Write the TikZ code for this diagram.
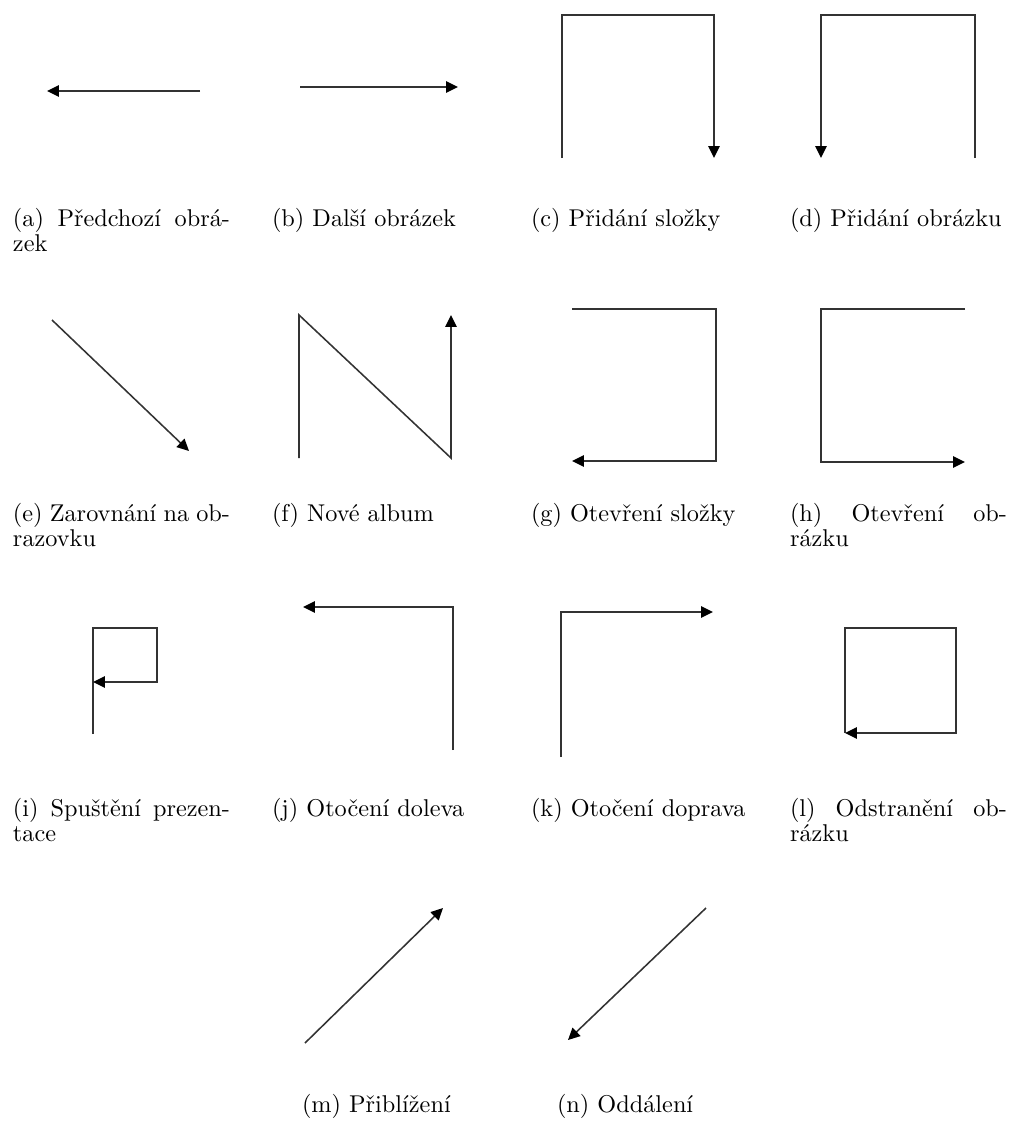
\documentclass[tikz,border=0pt]{standalone}
\usetikzlibrary{arrows.meta}
\begin{document}
\begin{tikzpicture}[x=0.412pt,y=-0.412pt,
  icon/.style={draw=black!80, line width=0.64pt, line join=miter,
    -{Triangle[length=4.9pt,width=4.7pt,color=black]}},
  subcap/.style={anchor=north west, inner sep=0pt, outer sep=0pt, text width=89.4pt, align=justify, font=\fontsize{10pt}{10.4pt}\selectfont}]
\useasboundingbox (0,0) rectangle (1010,1122);
% row 1
\draw[icon] (200,91) -- (47,91);
\draw[icon] (300,87) -- (458,87);
\draw[icon] (562,158) -- (562,15) -- (714,15) -- (714,158);
\draw[icon] (975,158) -- (975,15) -- (821,15) -- (821,158);
\node[subcap] (ca) at (13,207.8) {(a) Předchozí obrá-\linebreak zek};
\node[subcap] (cb) at (272,207.8) {(b) Další obrázek};
\node[subcap] (cc) at (531,207.8) {(c) Přidání složky};
\node[subcap] (cd) at (790,207.8) {(d) Přidání obrázku};
% row 2
\draw[icon] (52,320) -- (189,451);
\draw[icon] (299,458) -- (299,315) -- (451,458) -- (451,315);
\draw[icon] (572,309) -- (716,309) -- (716,461) -- (572,461);
\draw[icon] (965,309) -- (821,309) -- (821,462) -- (965,462);
\node[subcap] (ce) at (13,502.8) {(e) Zarovnání na ob-\linebreak razovku};
\node[subcap] (cf) at (272,502.8) {(f) Nové album};
\node[subcap] (cg) at (531,502.8) {(g) Otevření složky};
\node[subcap] (ch) at (790,502.8) {(h) Otevření ob-\linebreak rázku};
% row 3
\draw[icon] (93,734) -- (93,628) -- (157,628) -- (157,682) -- (93,682);
\draw[icon] (453,750) -- (453,607) -- (303,607);
\draw[icon] (561,757) -- (561,612) -- (713,612);
\draw[icon] (845,733) -- (845,628) -- (956,628) -- (956,733) -- (845,733);
\node[subcap] (ci) at (13,797.8) {(i) Spuštění prezen-\linebreak tace};
\node[subcap] (cj) at (272,797.8) {(j) Otočení doleva};
\node[subcap] (ck) at (531,797.8) {(k) Otočení doprava};
\node[subcap] (cl) at (790,797.8) {(l) Odstranění ob-\linebreak rázku};
% row 4
\draw[icon] (305,1043) -- (443,908);
\draw[icon] (706,908) -- (568,1040);
\node[subcap] (cm) at (302,1093.8) {(m) Přiblížení};
\node[subcap] (cn) at (557,1093.8) {(n) Oddálení};
\end{tikzpicture}
\end{document}
